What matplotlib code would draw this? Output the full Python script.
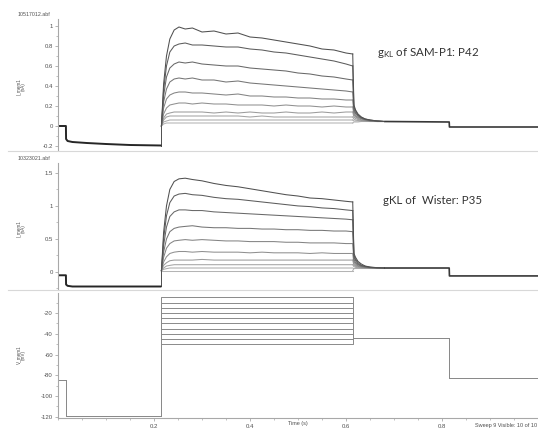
import matplotlib
matplotlib.use('Agg')
import matplotlib.pyplot as plt
from matplotlib.lines import Line2D
from matplotlib.ticker import MultipleLocator

plt.rcParams['axes.unicode_minus'] = False
plt.rcParams['font.family'] = ['Liberation Sans', 'DejaVu Sans']

# ---------------- data ----------------
# time grid during the test pulse (s)
t_pulse = [0.2155, 0.22, 0.226, 0.233, 0.242, 0.252, 0.265, 0.28, 0.30, 0.325, 0.35,
           0.375, 0.40, 0.425, 0.45, 0.475, 0.50, 0.525, 0.55, 0.575, 0.60, 0.614]
# time grid for the tail after the pulse
t_tail = [0.614, 0.6165, 0.62, 0.625, 0.632, 0.64, 0.65, 0.665, 0.68]
# pre-pulse time grid
t_pre = [0.0, 0.0165, 0.0168, 0.02, 0.03, 0.06, 0.10, 0.15, 0.2155]

# SAM-P1 current (nA), sweeps from -50 mV (first) to -5 mV (last)
sam_pre = [0.0, 0.0, -0.13, -0.15, -0.16, -0.17, -0.18, -0.19, -0.195]
sam_pulse = [
    [0.00, 0.02, 0.03, 0.03, 0.03, 0.03, 0.03, 0.03, 0.03, 0.03, 0.03, 0.03, 0.03, 0.03, 0.03, 0.03, 0.03, 0.03, 0.03, 0.03, 0.03, 0.03],
    [0.00, 0.04, 0.05, 0.06, 0.06, 0.06, 0.06, 0.06, 0.06, 0.06, 0.06, 0.06, 0.06, 0.06, 0.06, 0.06, 0.06, 0.06, 0.06, 0.06, 0.06, 0.06],
    [0.00, 0.06, 0.09, 0.10, 0.10, 0.10, 0.10, 0.10, 0.10, 0.10, 0.10, 0.10, 0.09, 0.10, 0.09, 0.09, 0.09, 0.09, 0.09, 0.09, 0.09, 0.09],
    [0.00, 0.08, 0.12, 0.13, 0.14, 0.14, 0.14, 0.14, 0.14, 0.13, 0.14, 0.13, 0.14, 0.13, 0.13, 0.14, 0.13, 0.13, 0.14, 0.13, 0.14, 0.14],
    [0.00, 0.12, 0.18, 0.21, 0.22, 0.23, 0.23, 0.22, 0.23, 0.22, 0.22, 0.21, 0.21, 0.21, 0.20, 0.21, 0.20, 0.20, 0.19, 0.20, 0.19, 0.19],
    [0.00, 0.18, 0.27, 0.31, 0.33, 0.34, 0.34, 0.33, 0.33, 0.32, 0.31, 0.32, 0.30, 0.30, 0.29, 0.29, 0.28, 0.28, 0.27, 0.27, 0.26, 0.26],
    [0.00, 0.24, 0.37, 0.44, 0.47, 0.48, 0.47, 0.48, 0.46, 0.46, 0.44, 0.45, 0.43, 0.42, 0.41, 0.40, 0.39, 0.38, 0.37, 0.36, 0.35, 0.34],
    [0.00, 0.30, 0.49, 0.58, 0.62, 0.64, 0.63, 0.64, 0.62, 0.61, 0.60, 0.60, 0.58, 0.57, 0.56, 0.55, 0.53, 0.52, 0.50, 0.49, 0.47, 0.46],
    [0.00, 0.36, 0.60, 0.74, 0.80, 0.82, 0.83, 0.81, 0.81, 0.80, 0.79, 0.79, 0.77, 0.76, 0.74, 0.73, 0.71, 0.69, 0.67, 0.65, 0.62, 0.60],
    [0.00, 0.42, 0.70, 0.87, 0.96, 0.99, 0.97, 0.98, 0.94, 0.95, 0.92, 0.93, 0.89, 0.88, 0.86, 0.84, 0.82, 0.80, 0.77, 0.76, 0.73, 0.72],
]
sam_tail = [
    [0.03, 0.04, 0.04, 0.04, 0.045, 0.045, 0.045, 0.045, 0.045],
    [0.06, 0.05, 0.05, 0.05, 0.045, 0.045, 0.045, 0.045, 0.045],
    [0.09, 0.07, 0.06, 0.055, 0.05, 0.05, 0.045, 0.045, 0.045],
    [0.14, 0.09, 0.075, 0.065, 0.055, 0.05, 0.05, 0.045, 0.045],
    [0.19, 0.11, 0.09, 0.075, 0.06, 0.055, 0.05, 0.045, 0.045],
    [0.26, 0.13, 0.10, 0.085, 0.07, 0.06, 0.05, 0.045, 0.045],
    [0.34, 0.15, 0.12, 0.095, 0.075, 0.065, 0.055, 0.05, 0.045],
    [0.46, 0.17, 0.13, 0.105, 0.08, 0.065, 0.055, 0.05, 0.045],
    [0.60, 0.19, 0.15, 0.11, 0.085, 0.07, 0.06, 0.05, 0.045],
    [0.72, 0.21, 0.16, 0.12, 0.09, 0.07, 0.06, 0.05, 0.045],
]
t_post = [0.68, 0.815, 0.8155, 1.0]
sam_post = [0.045, 0.04, -0.01, -0.01]

# Wister current (nA)
wis_pre = [-0.05, -0.05, -0.19, -0.21, -0.22, -0.22, -0.22, -0.22, -0.22]
wis_pulse = [
    [0.02, 0.02, 0.02, 0.02, 0.02, 0.02, 0.02, 0.02, 0.02, 0.02, 0.02, 0.02, 0.02, 0.02, 0.02, 0.02, 0.02, 0.02, 0.02, 0.02, 0.02, 0.02],
    [0.02, 0.04, 0.05, 0.06, 0.06, 0.06, 0.06, 0.06, 0.06, 0.06, 0.06, 0.06, 0.06, 0.06, 0.06, 0.06, 0.06, 0.06, 0.06, 0.06, 0.06, 0.06],
    [0.02, 0.06, 0.09, 0.10, 0.11, 0.11, 0.11, 0.11, 0.11, 0.11, 0.11, 0.11, 0.11, 0.11, 0.11, 0.11, 0.11, 0.11, 0.11, 0.11, 0.11, 0.11],
    [0.02, 0.10, 0.14, 0.17, 0.18, 0.18, 0.18, 0.18, 0.19, 0.18, 0.18, 0.18, 0.18, 0.18, 0.18, 0.18, 0.18, 0.18, 0.18, 0.18, 0.18, 0.18],
    [0.02, 0.15, 0.23, 0.28, 0.30, 0.31, 0.31, 0.30, 0.31, 0.30, 0.30, 0.30, 0.29, 0.30, 0.29, 0.29, 0.29, 0.28, 0.29, 0.28, 0.28, 0.28],
    [0.02, 0.22, 0.36, 0.43, 0.47, 0.48, 0.49, 0.48, 0.49, 0.48, 0.47, 0.47, 0.46, 0.46, 0.46, 0.45, 0.45, 0.44, 0.44, 0.44, 0.43, 0.43],
    [0.02, 0.30, 0.50, 0.61, 0.66, 0.68, 0.69, 0.70, 0.68, 0.67, 0.67, 0.66, 0.66, 0.65, 0.65, 0.64, 0.64, 0.63, 0.63, 0.62, 0.62, 0.61],
    [0.02, 0.40, 0.68, 0.84, 0.91, 0.94, 0.94, 0.93, 0.93, 0.91, 0.90, 0.89, 0.88, 0.87, 0.86, 0.85, 0.84, 0.83, 0.82, 0.81, 0.80, 0.79],
    [0.02, 0.50, 0.85, 1.05, 1.15, 1.18, 1.19, 1.17, 1.16, 1.13, 1.11, 1.10, 1.08, 1.06, 1.04, 1.02, 1.00, 0.99, 0.97, 0.96, 0.94, 0.93],
    [0.02, 0.60, 1.00, 1.25, 1.37, 1.41, 1.42, 1.40, 1.38, 1.34, 1.31, 1.29, 1.26, 1.23, 1.20, 1.17, 1.15, 1.12, 1.11, 1.09, 1.07, 1.06],
]
wis_tail = [
    [0.02, 0.05, 0.055, 0.06, 0.06, 0.06, 0.06, 0.06, 0.06],
    [0.06, 0.06, 0.06, 0.06, 0.06, 0.06, 0.06, 0.06, 0.06],
    [0.11, 0.08, 0.07, 0.065, 0.06, 0.06, 0.06, 0.06, 0.06],
    [0.18, 0.10, 0.085, 0.075, 0.065, 0.06, 0.06, 0.06, 0.06],
    [0.28, 0.13, 0.10, 0.085, 0.07, 0.065, 0.06, 0.06, 0.06],
    [0.43, 0.16, 0.12, 0.095, 0.08, 0.07, 0.065, 0.06, 0.06],
    [0.61, 0.19, 0.14, 0.11, 0.085, 0.075, 0.065, 0.06, 0.06],
    [0.79, 0.22, 0.17, 0.12, 0.095, 0.08, 0.07, 0.06, 0.06],
    [0.93, 0.25, 0.19, 0.14, 0.10, 0.085, 0.07, 0.065, 0.06],
    [1.06, 0.28, 0.22, 0.16, 0.12, 0.09, 0.075, 0.065, 0.06],
]
wis_post = [0.06, 0.06, -0.06, -0.06]

# command voltage protocol (mV)
v_steps = [-50, -45, -40, -35, -30, -25, -20, -15, -10, -5]
v_hold = -85
v_pre = -119
v_after = -44
v_end = -83
t_edges = [0.0, 0.0165, 0.2155, 0.615, 0.815, 1.0]

sam_yticks = [-0.2, 0, 0.2, 0.4, 0.6, 0.8, 1]
sam_yticklabels = ['-0.2', '0', '0.2', '0.4', '0.6', '0.8', '1']
wis_yticks = [0, 0.5, 1, 1.5]
wis_yticklabels = ['0', '0.5', '1', '1.5']
v_yticks = [-120, -100, -80, -60, -40, -20]
v_yticklabels = ['-120', '-100', '-80', '-60', '-40', '-20']
x_ticks = [0.2, 0.4, 0.6, 0.8]
x_ticklabels = ['0.2', '0.4', '0.6', '0.8']

# ---------------- figure ----------------
W, H = 538, 432
fig = plt.figure(figsize=(W / 100, H / 100), dpi=100)
fig.patch.set_facecolor('white')


def ax_at(l, t, r, b):
    return fig.add_axes([l / W, 1 - b / H, (r - l) / W, (b - t) / H])


def fx(x):
    return x / W


def fy(y):
    return 1 - y / H


spine_col = '#a8a8a8'
lab_col = '#505050'
grays = ['#b4b4b4', '#acacac', '#a4a4a4', '#9c9c9c', '#909090',
         '#848484', '#767676', '#686868', '#5c5c5c', '#505050']


def style(ax, yt, ytl, ymin, xaxis=False):
    for s in ['top', 'right']:
        ax.spines[s].set_visible(False)
    ax.spines['left'].set_color(spine_col)
    ax.spines['left'].set_linewidth(0.8)
    ax.set_yticks(yt)
    ax.set_yticklabels(ytl)
    ax.yaxis.set_minor_locator(MultipleLocator(ymin))
    ax.tick_params(axis='y', which='major', labelsize=4.3, length=2.2, width=0.6,
                   color=spine_col, labelcolor=lab_col, pad=1.5)
    ax.tick_params(axis='y', which='minor', length=1.2, width=0.5, color=spine_col)
    ax.set_xlim(0, 1.0)
    if xaxis:
        ax.spines['bottom'].set_color(spine_col)
        ax.spines['bottom'].set_linewidth(0.8)
        ax.set_xticks(x_ticks)
        ax.set_xticklabels(x_ticklabels)
        ax.xaxis.set_minor_locator(MultipleLocator(0.05))
        ax.tick_params(axis='x', which='major', labelsize=4.3, length=2.2, width=0.6,
                       color=spine_col, labelcolor=lab_col, pad=2)
        ax.tick_params(axis='x', which='minor', length=1.2, width=0.5, color=spine_col)
    else:
        ax.spines['bottom'].set_visible(False)
        ax.set_xticks([])


def draw_current(ax, pre, pulse, tail, post):
    for i in range(len(pulse)):
        ax.plot([t_pre[-1], t_pulse[0]], [pre[-1], pulse[i][0]], color=grays[i], lw=0.6)
        ax.plot(t_pulse, pulse[i], color=grays[i], lw=0.75)
        ax.plot(t_tail, tail[i], color=grays[i], lw=0.75)
    ax.plot(t_pre, pre, color='#262626', lw=1.4, solid_capstyle='butt')
    ax.plot(t_post, post, color='#383838', lw=1.2, solid_capstyle='butt')


# Panel 1: SAM-P1
ax1 = ax_at(58, 19, 538, 150)
draw_current(ax1, sam_pre, sam_pulse, sam_tail, sam_post)
ax1.set_ylim(-0.24, 1.07)
style(ax1, sam_yticks, sam_yticklabels, 0.1)

# Panel 2: Wister
ax2 = ax_at(58, 163, 538, 290)
draw_current(ax2, wis_pre, wis_pulse, wis_tail, wis_post)
ax2.set_ylim(-0.273, 1.65)
style(ax2, wis_yticks, wis_yticklabels, 0.25)

# Panel 3: voltage protocol
ax3 = ax_at(58, 293, 538, 418)
for v in v_steps:
    tt = [t_edges[0], t_edges[1], t_edges[1], t_edges[2], t_edges[2], t_edges[3],
          t_edges[3], t_edges[4], t_edges[4], t_edges[5]]
    vv = [v_hold, v_hold, v_pre, v_pre, v, v, v_after, v_after, v_end, v_end]
    ax3.plot(tt, vv, color='#8a8a8a', lw=0.7)
ax3.set_ylim(-121.2, -0.7)
style(ax3, v_yticks, v_yticklabels, 10, xaxis=True)

# separators between panels
for yy in [151, 290]:
    fig.add_artist(Line2D([fx(8), fx(538)], [fy(yy), fy(yy)], color='#d8d8d8', lw=0.8))

# file names
fig.text(fx(18), fy(14), '10517012.abf', fontsize=3.8, color=lab_col, ha='left', va='center')
fig.text(fx(18), fy(159), '10323021.abf', fontsize=3.8, color=lab_col, ha='left', va='center')

# y labels
fig.text(fx(21), fy(87), 'I_mem1\n(nA)', fontsize=3.3, color=lab_col, rotation=90,
         ha='center', va='center', linespacing=1.0)
fig.text(fx(21), fy(229), 'I_mem1\n(nA)', fontsize=3.3, color=lab_col, rotation=90,
         ha='center', va='center', linespacing=1.0)
fig.text(fx(21), fy(355), 'V_mem1\n(mV)', fontsize=3.3, color=lab_col, rotation=90,
         ha='center', va='center', linespacing=1.0)

# x label and sweep info
fig.text(fx(298), fy(424), 'Time (s)', fontsize=4.0, color=lab_col, ha='center', va='center')
fig.text(fx(537), fy(425), 'Sweep 9 Visible: 10 of 10', fontsize=4.0, color=lab_col,
         ha='right', va='center')

# annotations
fig.text(fx(377), fy(53), r'$\mathregular{g_{KL}}$ of SAM-P1: P42', fontsize=8.3,
         color='#333333', ha='left', va='center', family=['Lato', 'DejaVu Sans'])
fig.text(fx(383), fy(200), 'gKL of  Wister: P35', fontsize=8.3,
         color='#333333', ha='left', va='center', family=['Lato', 'DejaVu Sans'])

fig.savefig('out.png', dpi=100, facecolor='white')
